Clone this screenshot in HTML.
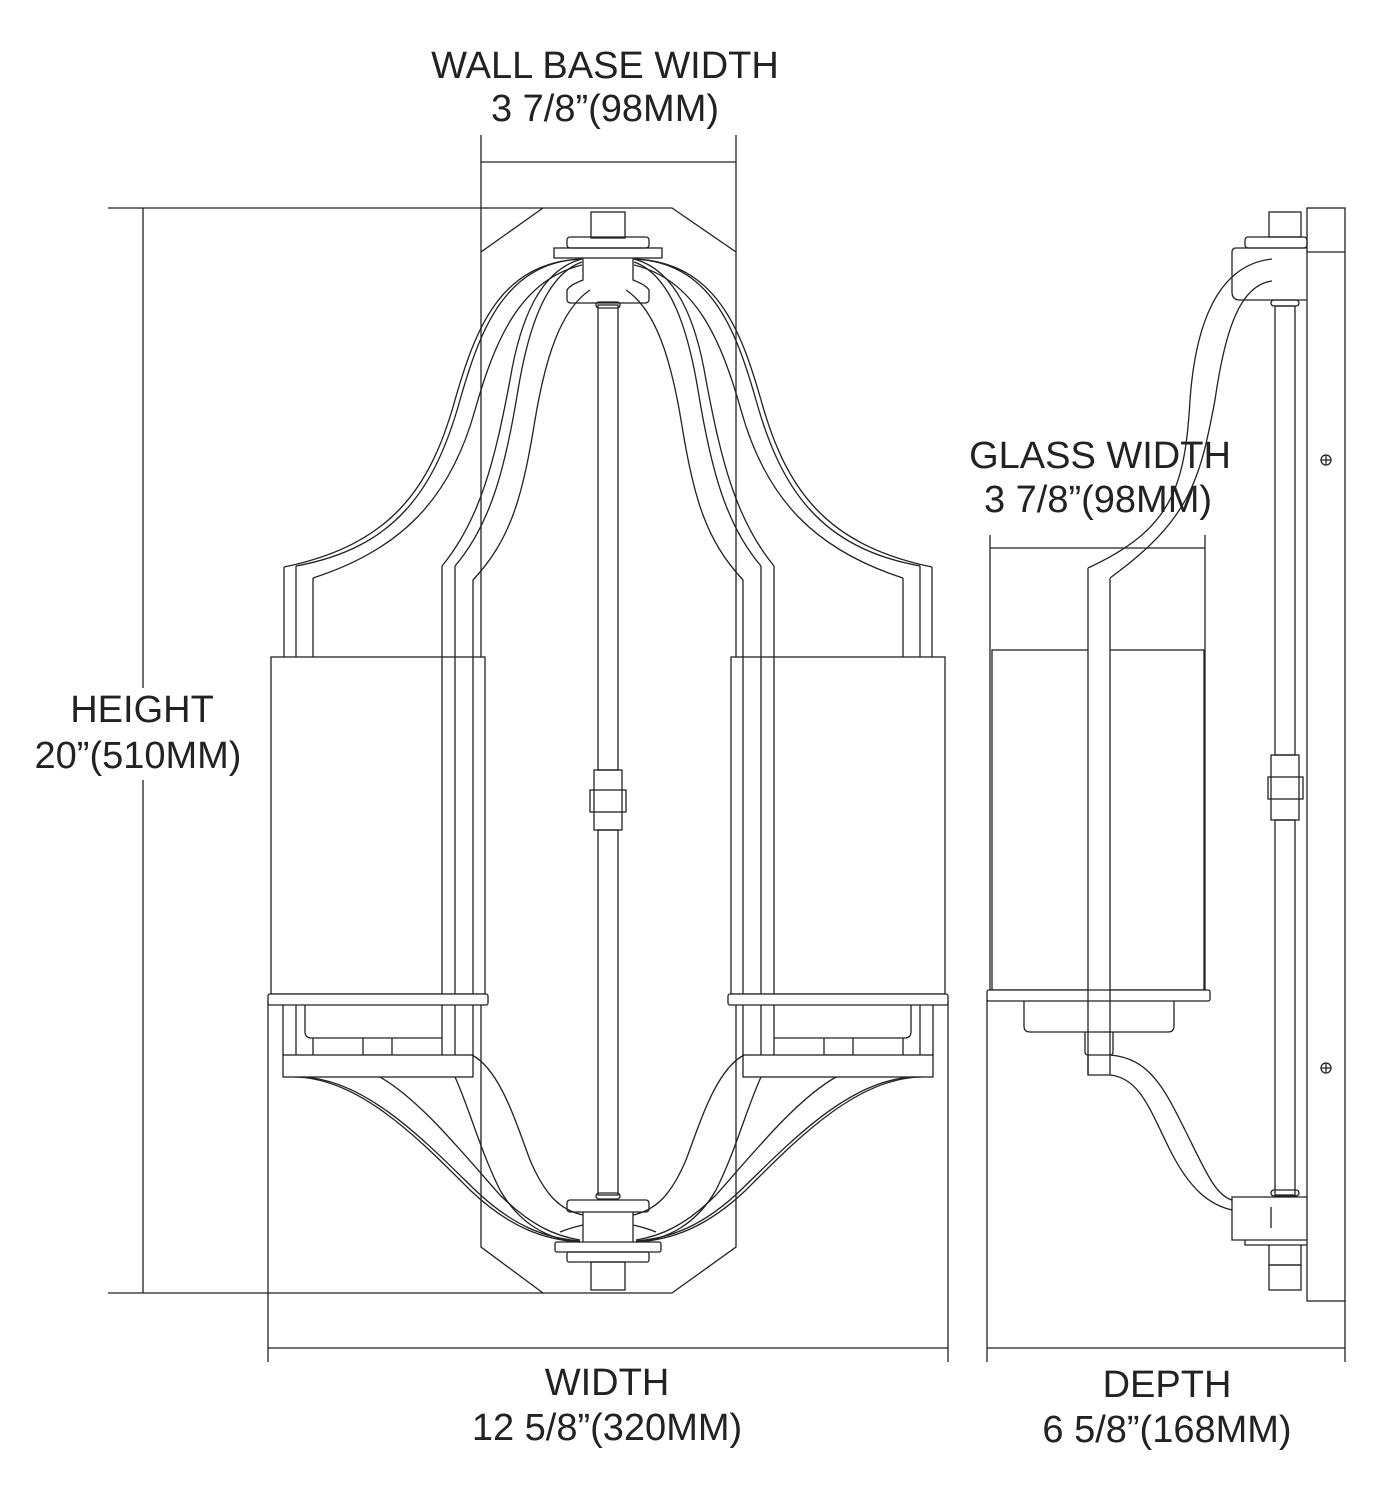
<!DOCTYPE html>
<html><head><meta charset="utf-8"><style>
html,body{margin:0;padding:0;background:#fff}
svg{display:block}
text{font-family:"Liberation Sans",sans-serif;font-size:38px;fill:#222;text-anchor:middle}
</style></head><body>
<svg width="1376" height="1500" viewBox="0 0 1376 1500" xmlns="http://www.w3.org/2000/svg">
<g fill="none" stroke="#222" stroke-width="1.3">
<!-- dimensions -->
<line x1="481" y1="135" x2="481" y2="252"/><line x1="736" y1="135" x2="736" y2="252"/>
<line x1="481" y1="162" x2="736" y2="162"/>
<line x1="108" y1="208" x2="543" y2="208"/><line x1="108" y1="1293" x2="543" y2="1293"/>
<line x1="143" y1="208" x2="143" y2="1293"/>
<line x1="268" y1="1000" x2="268" y2="1362"/><line x1="948" y1="1000" x2="948" y2="1362"/>
<line x1="268" y1="1348" x2="948" y2="1348"/>
<line x1="987" y1="1000" x2="987" y2="1362"/><line x1="1345" y1="1300" x2="1345" y2="1362"/>
<line x1="987" y1="1348" x2="1345" y2="1348"/>
<line x1="990" y1="535" x2="990" y2="990"/><line x1="1205" y1="535" x2="1205" y2="990"/>
<line x1="990" y1="548" x2="1205" y2="548"/>
<!-- wall plate front -->
<path d="M543,208 H672 L736,252 V1247 L672,1293 H543 L481,1247 V252 Z"/>
<!-- center rod -->
<rect x="598" y="305" width="20" height="465"/><rect x="598" y="830" width="20" height="365"/>
<rect x="594" y="770" width="28" height="60"/><rect x="590" y="790" width="36" height="22"/>
<!-- top hub -->
<rect x="591" y="212" width="34" height="26"/>
<rect x="567" y="237" width="82" height="11" rx="3"/>
<rect x="554" y="248" width="108" height="10"/>
<path d="M583,258 V280 Q570,285 567,290 V300 Q567,302 570,303 H646 Q649,302 649,300 V290 Q646,285 633,280 V258"/>
<rect x="596" y="302" width="24" height="6" rx="3"/>
<!-- bottom hub -->
<rect x="596" y="1193" width="24" height="6" rx="3"/>
<rect x="567" y="1200" width="82" height="12" rx="3"/>
<path d="M583,1212 V1225 Q570,1228 560,1232 M633,1212 V1225 Q646,1228 656,1232 M583,1225 V1242 M633,1225 V1242"/>
<rect x="555" y="1242" width="106" height="10" rx="2"/>
<rect x="567" y="1252" width="82" height="10" rx="2"/>
<rect x="591" y="1262" width="34" height="28"/>
<!-- left half lamp + mirrored right -->
<g id="half">
<path d="M582,259 C500,262 475,330 455,400 C430,490 390,545 284,567"/>
<path d="M582,259 C505,262 480,330 460,400 C435,490 395,548 296,566"/>
<path d="M582,265 C520,280 495,340 475,410 C450,500 400,550 313,578"/>
<path d="M582,259 C540,270 520,320 510,380 C495,460 480,520 442,566"/>
<path d="M582,262 C545,275 528,330 518,390 C505,470 490,525 455,566"/>
<path d="M590,290 C560,310 545,360 535,420 C522,500 510,540 473,580"/>
<path d="M284,567 V657 M296,566 V657 M313,578 V657"/>
<path d="M442,566 V1055 M455,566 V1055 M473,580 V1055"/>
<rect x="271" y="657" width="214" height="337" fill="#fff"/>
<line x1="442" y1="657" x2="442" y2="994"/><line x1="455" y1="657" x2="455" y2="994"/><line x1="473" y1="657" x2="473" y2="994"/>
<rect x="268" y="994" width="220" height="11" rx="2" fill="#fff"/>
<path d="M283,1005 V1055 M296,1005 V1055 M305,1005 V1032 Q305,1037 310,1038 H442 M313,1038 V1055 M363,1038 V1055 H392 V1038"/>
<rect x="283" y="1055" width="190" height="22" fill="#fff"/>
<path d="M295,1077 C360,1078 420,1140 470,1190 C510,1228 545,1240 580,1242"/>
<path d="M302,1077 C365,1079 424,1140 473,1188 C512,1226 545,1238 580,1241"/>
<path d="M380,1077 C420,1100 460,1150 500,1195 C530,1225 555,1236 580,1240"/>
<path d="M455,1077 C470,1110 480,1150 500,1190 C520,1225 550,1240 580,1242"/>
<path d="M472,1055 C500,1070 515,1120 530,1160 C545,1195 560,1210 583,1215"/>
</g>
<use href="#half" transform="translate(1216,0) scale(-1,1)"/>
<!-- side view -->
<rect x="1307" y="208" width="38" height="1093"/>
<line x1="1307" y1="252" x2="1345" y2="252"/>
<circle cx="1326" cy="460" r="5"/><path d="M1321,460 H1331 M1326,455 V465"/>
<circle cx="1326" cy="1068" r="5"/><path d="M1321,1068 H1331 M1326,1063 V1073"/>
<rect x="1269" y="212" width="32" height="25"/>
<rect x="1245" y="237" width="62" height="11" rx="3"/>
<path d="M1307,248 H1236 Q1232,248 1232,252 V292 Q1232,300 1240,300 H1307"/>
<rect x="1271" y="300" width="28" height="6" rx="3"/>
<rect x="1275" y="306" width="20" height="449"/><rect x="1275" y="820" width="20" height="375"/>
<rect x="1271" y="755" width="28" height="65"/><rect x="1268" y="777" width="35" height="22"/>
<rect x="1271" y="1190" width="28" height="6" rx="3"/>
<path d="M1307,1197 H1232 V1240 H1307 M1245,1240 V1245 H1307 M1269,1245 V1265 H1301 V1245"/>
<line x1="1271" y1="1207" x2="1271" y2="1228"/>
<rect x="1269" y="1265" width="32" height="25"/>
<path d="M1272,259 C1215,265 1195,330 1190,400 C1185,490 1170,530 1088,568"/>
<path d="M1272,281 C1240,285 1225,330 1215,400 C1200,480 1190,520 1110,578"/>
<path d="M1088,568 L1110,578"/>
<rect x="992" y="650" width="212" height="340"/>
<rect x="1088" y="568" width="22" height="500" fill="#fff" stroke="none"/>
<path d="M1088,568 V1075 M1110,578 V1075"/>
<rect x="987" y="990" width="223" height="11" rx="2" fill="#fff"/>
<line x1="1088" y1="990" x2="1088" y2="1001"/><line x1="1110" y1="990" x2="1110" y2="1001"/>
<path d="M1024,1001 V1026 Q1024,1032 1030,1032 H1168 Q1174,1032 1174,1026 V1001"/>
<path d="M1085,1032 V1052 Q1085,1055 1088,1055 H1110 Q1113,1055 1113,1052 V1032"/>
<path d="M1088,1055 V1075 H1110"/>
<path d="M1110,1055 C1150,1058 1165,1090 1185,1130 C1205,1170 1215,1195 1232,1200"/>
<path d="M1110,1075 C1140,1078 1150,1110 1170,1150 C1190,1190 1210,1205 1232,1210"/>
</g>
<rect x="30" y="688" width="220" height="92" fill="#fff"/>
<text x="605" y="78">WALL BASE WIDTH</text>
<text x="605" y="121">3 7/8”(98MM)</text>
<text x="142" y="722">HEIGHT</text>
<text x="138" y="768">20”(510MM)</text>
<text x="1100" y="468">GLASS WIDTH</text>
<text x="1098" y="512">3 7/8”(98MM)</text>
<text x="607" y="1395">WIDTH</text>
<text x="607" y="1440">12 5/8”(320MM)</text>
<text x="1167" y="1397">DEPTH</text>
<text x="1167" y="1442">6 5/8”(168MM)</text>
</svg>
</body></html>
